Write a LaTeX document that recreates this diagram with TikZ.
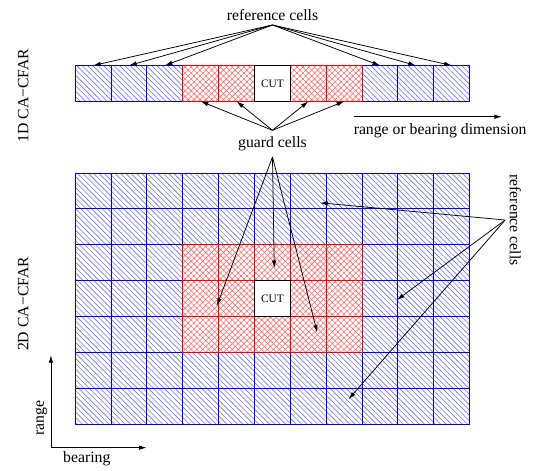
\documentclass[tikz,border=0pt]{standalone}
\usepackage{fontspec}
\setmainfont{Liberation Serif}
\usetikzlibrary{arrows.meta}
\usetikzlibrary{patterns.meta}

\tikzset{
  refcell/.style={draw=blue, line width=0.8pt,
    pattern={Lines[angle=-45,distance=3pt,line width=0.5pt]}, pattern color=blue!55,
    minimum size=1cm, inner sep=0pt, outer sep=0pt},
  guardcell/.style={draw=red, line width=0.8pt, preaction={fill=white},
    pattern={Hatch[angle=45,distance=3.3pt,line width=0.45pt]}, pattern color=red!60,
    minimum size=1cm, inner sep=0pt, outer sep=0pt},
  cutcell/.style={draw=black, line width=0.8pt, fill=white, minimum size=1cm,
    inner sep=0pt, outer sep=0pt, font=\fontsize{9}{11}\selectfont},
  lbl/.style={font=\fontsize{12.5}{15}\selectfont},
  arr/.style={-{Latex[length=6pt,width=3.5pt]}, line width=0.6pt}
}

\begin{document}
\begin{tikzpicture}
  \useasboundingbox (-2.1,-1.283) rectangle (12.906,11.827);

  % 1D window
  \foreach \i in {0,...,10}
    \node [refcell] (r\i) at (\i+0.5,9.5) {};
  \foreach \i in {3,4,6,7}
    \node [guardcell] (g\i) at (\i+0.5,9.5) {};
  \node [cutcell] (cut1) at (5.5,9.5) {CUT};

  % 2D window
  \foreach \i in {0,...,10}
    \foreach \j in {0,...,6}
      \node [refcell] (m\i-\j) at (\i+0.5,\j+0.5) {};
  \foreach \i in {3,...,7}
    \foreach \j in {2,3,4}
      \node [guardcell] (n\i-\j) at (\i+0.5,\j+0.5) {};
  \node [cutcell] (cut2) at (5.5,3.5) {CUT};

  % labels
  \node [lbl, anchor=south] (ref1) at (5.5,11.13) {reference cells};
  \node [lbl, minimum height=0.73cm, inner sep=0pt] (guard) at (5.5,7.82) {guard cells};
  \node [lbl, rotate=-90, anchor=south] (ref2) at (11.99,5.69) {reference cells};
  \node [lbl, rotate=90] (lbl1d) at (-1.45,9.16) {1D CA−CFAR};
  \node [lbl, rotate=90] (lbl2d) at (-1.45,3.35) {2D CA−CFAR};

  \foreach \i in {0,1,2,8,9,10}
    \draw [arr] (ref1.south) -- (r\i.north);
  \foreach \i in {3,4,6,7}
    \draw [arr] (guard.north) -- (g\i.south);

  \coordinate (gt1) at (3.95,3.3);
  \coordinate (gt2) at (5.55,4.35);
  \coordinate (gt3) at (6.75,2.55);
  \foreach \t in {gt1,gt2,gt3}
    \draw [arr] (guard.south) -- (\t);

  \coordinate (rt1) at (6.83,6.17);
  \coordinate (rt2) at (8.97,3.46);
  \coordinate (rt3) at (7.62,0.69);
  \foreach \t in {rt1,rt2,rt3}
    \draw [arr] (ref2.south) -- (\t);

  % dimension arrow
  \coordinate (dimA) at (7.76,8.57);
  \coordinate (dimB) at (11.9,8.57);
  \draw [arr] (dimA) -- (dimB);
  \node [lbl, anchor=north west, inner sep=0pt] (dimlbl) at ([yshift=-5pt]dimA) {range or bearing dimension};

  % axes
  \coordinate (orig) at (-0.68,-0.66);
  \coordinate (rangeend) at (-0.68,1.92);
  \coordinate (bearend) at (1.99,-0.66);
  \draw [arr] (orig) -- (rangeend);
  \draw [arr] (orig) -- (bearend);
  \node [lbl, rotate=90] (rangelbl) at (-0.94,0.17) {range};
  \node [lbl] (bearlbl) at (0.32,-0.96) {bearing};
\end{tikzpicture}
\end{document}
